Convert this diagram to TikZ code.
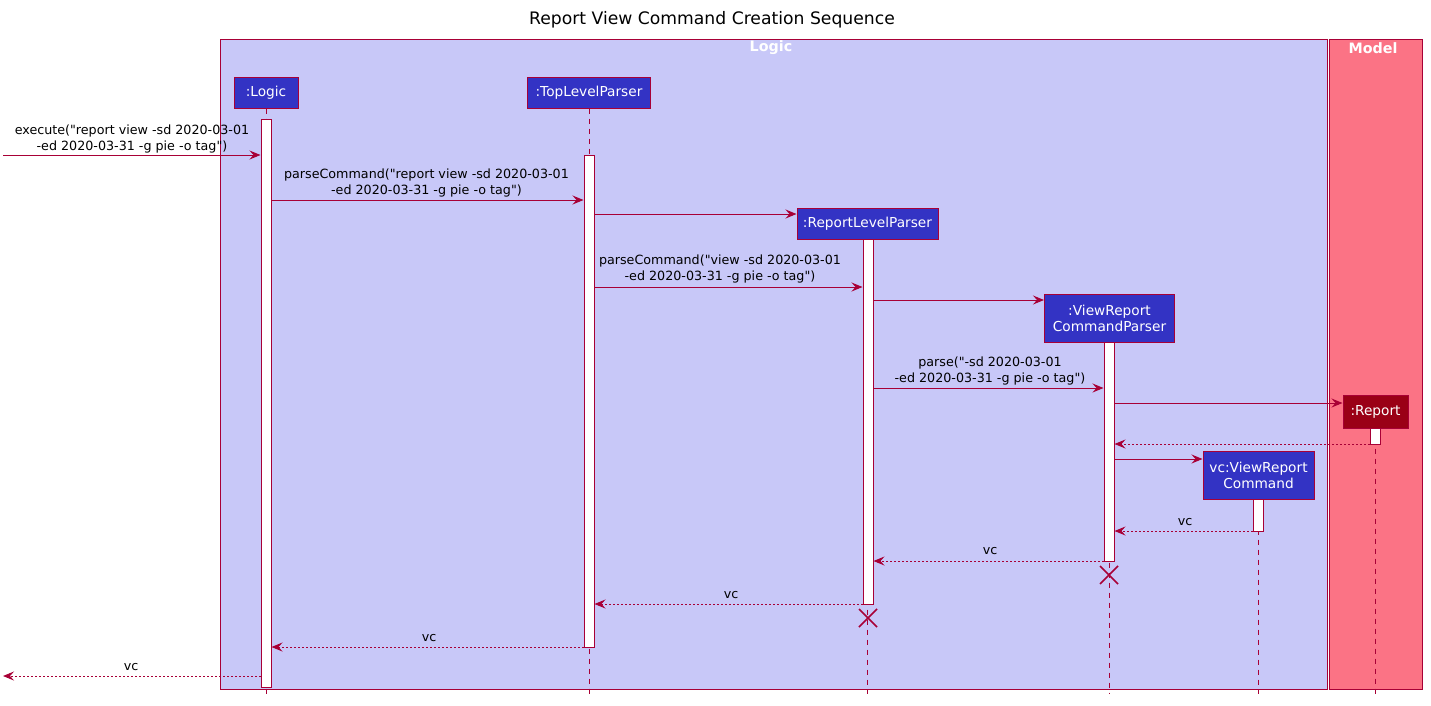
\documentclass[tikz,border=0pt]{standalone}
\usepackage{fontspec}
\setmainfont{DejaVu Sans}[Ligatures=TeXOff]
\usetikzlibrary{arrows.meta}
\definecolor{crim}{HTML}{A80036}
\definecolor{logicbg}{HTML}{C8C8F8}
\definecolor{modelbg}{HTML}{FB7385}
\definecolor{partblue}{HTML}{3333C4}
\definecolor{reportred}{HTML}{9A0016}
\newcommand\dq{\symbol{34}}
\tikzset{
  part/.style={draw=crim, fill=partblue, text=white, font=\fontsize{13.7}{16}\selectfont, line width=1pt, inner sep=0pt, align=center},
  actbar/.style={draw=crim, fill=white, line width=1pt, minimum width=10pt, inner sep=0pt},
  life/.style={draw=crim, line width=1pt, dash pattern=on 5pt off 5pt},
  msg/.style={draw=crim, line width=1pt, -{Stealth[length=11pt,width=9pt,inset=4pt]}},
  ret/.style={msg, dash pattern=on 2pt off 2pt},
  lbl/.style={font=\fontsize{12.7}{16}\selectfont, align=center, inner sep=0pt},
  kill/.style={draw=crim, line width=1.5pt},
  grp/.style={draw=crim, line width=1pt},
  grptitle/.style={text=white, font=\bfseries\fontsize{14.3}{16}\selectfont, inner sep=0pt}
}
\begin{document}
\begin{tikzpicture}[x=1pt,y=-1pt]
\useasboundingbox (0,0) rectangle (1431,705);
% title
\node[font=\fontsize{17.2}{20}\selectfont, inner sep=0pt] (title) at (712,20) {Report View Command Creation Sequence};
% groups
\node[grp, fill=logicbg, minimum width=1107pt, minimum height=650pt, inner sep=0pt] (gLogic) at (773.5,364) {};
\node[grp, fill=modelbg, minimum width=93pt, minimum height=650pt, inner sep=0pt] (gModel) at (1375.5,364) {};
\node[grptitle] (tLogic) at (771,48) {Logic};
\node[grptitle] (tModel) at (1373,48) {Model};
% participants
\node[part, minimum width=64pt, minimum height=31pt] (pLogic) at (266,92.5) {:Logic};
\node[part, minimum width=123pt, minimum height=31pt] (pTop) at (589,92.5) {:TopLevelParser};
\node[part, minimum width=141pt, minimum height=31pt] (pRLP) at (867.5,223.5) {:ReportLevelParser};
\node[part, minimum width=130pt, minimum height=48pt] (pVRCP) at (1109.5,318) {:ViewReport\\CommandParser};
\node[part, fill=reportred, minimum width=65pt, minimum height=33pt] (pRep) at (1375.5,411.5) {:Report};
\node[part, minimum width=111pt, minimum height=48pt] (pVC) at (1258.5,475) {vc:ViewReport\\Command};
% lifelines
\draw[life] (pLogic.south) -- (pLogic.south |- 0,694);
\draw[life] (pTop.south) -- (pTop.south |- 0,694);
\draw[life] (pRLP.south) -- (pRLP.south |- 0,694);
\draw[life] (pVRCP.south) -- (pVRCP.south |- 0,694);
\draw[life] (pRep.south) -- (pRep.south |- 0,694);
\draw[life] (pVC.south) -- (pVC.south |- 0,694);
% activation bars
\node[actbar, minimum height=568pt] (aLogic) at (266,403) {};
\node[actbar, minimum height=492pt] (aTop) at (589,401) {};
\node[actbar, minimum height=365pt] (aRLP) at (868,421.5) {};
\node[actbar, minimum height=219pt] (aVRCP) at (1109,451.5) {};
\node[actbar, minimum height=16pt] (aRep) at (1375,436) {};
\node[actbar, minimum height=32pt] (aVC) at (1258,515) {};
% destroy marks
\coordinate (xRLP) at (868,618);
\coordinate (xVRCP) at (1109,575);
\draw[kill] ([shift={(-9,-9)}]xRLP) -- ([shift={(9,9)}]xRLP) ([shift={(-9,9)}]xRLP) -- ([shift={(9,-9)}]xRLP);
\draw[kill] ([shift={(-9,-9)}]xVRCP) -- ([shift={(9,9)}]xVRCP) ([shift={(-9,9)}]xVRCP) -- ([shift={(9,-9)}]xVRCP);
% external ends
\coordinate (extIn) at (3,155);
\coordinate (extOut) at (3,676);
% messages
\draw[msg] (extIn) -- (aLogic.west |- extIn);
\node[lbl] (l1) at (132,139) {execute(\dq report view -sd 2020-03-01\\-ed 2020-03-31 -g pie -o tag\dq)};
\draw[msg] (aLogic.east |- 0,200) -- (aTop.west |- 0,200);
\node[lbl] (l2) at (426.5,183) {parseCommand(\dq report view -sd 2020-03-01\\-ed 2020-03-31 -g pie -o tag\dq)};
\draw[msg] (aTop.east |- 0,214) -- (pRLP.west |- 0,214);
\draw[msg] (aTop.east |- 0,287) -- (aRLP.west |- 0,287);
\node[lbl] (l4) at (720,268.5) {parseCommand(\dq view -sd 2020-03-01\\-ed 2020-03-31 -g pie -o tag\dq)};
\draw[msg] (aRLP.east |- 0,300) -- (pVRCP.west |- 0,300);
\draw[msg] (aRLP.east |- 0,388) -- (aVRCP.west |- 0,388);
\node[lbl] (l6) at (990,371) {parse(\dq-sd 2020-03-01\\-ed 2020-03-31 -g pie -o tag\dq)};
\draw[msg] (aVRCP.east |- 0,403) -- (pRep.west |- 0,403);
\draw[ret] (aRep.west |- 0,444) -- (aVRCP.east |- 0,444);
\draw[msg] (aVRCP.east |- 0,459) -- (pVC.west |- 0,459);
\draw[ret] (aVC.west |- 0,531) -- (aVRCP.east |- 0,531);
\node[lbl] (l10) at (1185,522) {vc};
\draw[ret] (aVRCP.west |- 0,561) -- (aRLP.east |- 0,561);
\node[lbl] (l11) at (990,551) {vc};
\draw[ret] (aRLP.west |- 0,604) -- (aTop.east |- 0,604);
\node[lbl] (l12) at (731,595) {vc};
\draw[ret] (aTop.west |- 0,647) -- (aLogic.east |- 0,647);
\node[lbl] (l13) at (429,638) {vc};
\draw[ret] (aLogic.west |- extOut) -- (extOut);
\node[lbl] (l14) at (131,667) {vc};
\end{tikzpicture}
\end{document}
